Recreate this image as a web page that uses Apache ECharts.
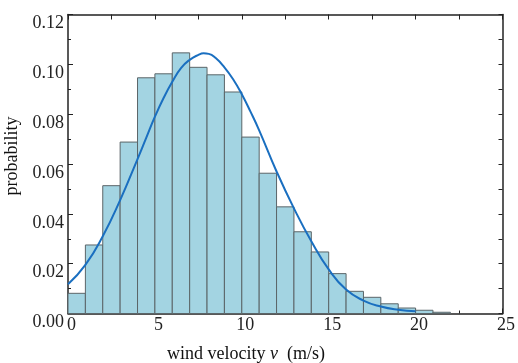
<!DOCTYPE html>
<html><head><meta charset="utf-8">
<script src="https://cdn.jsdelivr.net/npm/echarts@6/dist/echarts.min.js"></script>
<style>html,body{margin:0;padding:0;background:#fff}#c{width:518px;height:363px}</style>
</head><body><div id="c"></div>
<script>
// Histogram bins (bin start, width 1 m/s) and probabilities
const binStarts = [0,1,2,3,4,5,6,7,8,9,10,11,12,13,14,15,16,17,18,19,20,21];
const binWidth = 1;
const binProb = [0.0081,0.0275,0.0513,0.0688,0.0946,0.0962,0.1046,0.0988,0.0958,0.0889,0.0708,0.0563,0.0428,0.0328,0.0247,0.0160,0.0089,0.0065,0.0039,0.0022,0.0013,0.0005];
// Fitted curve
const curveX = [0,1,2,3,4,4.5,5,5.5,6,6.5,7,7.5,7.8,8.1,8.5,9,9.5,10,10.5,11,12,13,14,15,16,17,18,19,20];
const curveY = [0.0117,0.0195,0.031,0.0455,0.062,0.0705,0.079,0.0865,0.093,0.0985,0.1018,0.1038,0.1044,0.1042,0.1025,0.0988,0.094,0.088,0.081,0.0735,0.057,0.0422,0.029,0.0177,0.0096,0.0052,0.0028,0.0015,0.0009];
const xTicks = [0,5,10,15,20,25];
const yTicks = [0.00,0.02,0.04,0.06,0.08,0.10,0.12];

const FONT = 'Liberation Serif';
const AX = '#222';
const chart = echarts.init(document.getElementById('c'), null, {renderer:'canvas'});
const axisCommon = {
  axisLine:{show:true, onZero:false, lineStyle:{color:AX, width:1.5}},
  splitLine:{show:false},
};
chart.setOption({
  animation:false,
  backgroundColor:'#fff',
  grid:{left:68, right:12, top:14.5, bottom:49.5, show:false},
  xAxis:[
    Object.assign({type:'value', min:xTicks[0], max:xTicks[xTicks.length-1], interval:xTicks[1]-xTicks[0], position:'bottom',
      axisTick:{show:true, inside:true, length:5, lineStyle:{color:AX, width:1}},
      minorTick:{show:true, splitNumber:2, length:3, lineStyle:{color:AX, width:1}},
      axisLabel:{show:true, color:'#222', fontFamily:FONT, fontSize:18, margin:3, padding:[0,0,0,7]}}, axisCommon),
    Object.assign({type:'value', min:xTicks[0], max:xTicks[xTicks.length-1], interval:xTicks[1]-xTicks[0], position:'top',
      axisTick:{show:true, inside:true, length:5, lineStyle:{color:AX, width:1}},
      minorTick:{show:true, splitNumber:2, length:5, lineStyle:{color:AX, width:1}},
      axisLabel:{show:false}}, axisCommon)
  ],
  yAxis:[
    Object.assign({type:'value', min:yTicks[0], max:yTicks[yTicks.length-1], interval:yTicks[1]-yTicks[0], position:'left',
      axisTick:{show:true, inside:true, length:5, lineStyle:{color:AX, width:1}},
      minorTick:{show:true, splitNumber:2, length:3, lineStyle:{color:AX, width:1}},
      axisLabel:{show:true, color:'#222', fontFamily:FONT, fontSize:18, margin:4, verticalAlign:'top',
        formatter:v=>v.toFixed(2)}}, axisCommon),
    Object.assign({type:'value', min:yTicks[0], max:yTicks[yTicks.length-1], interval:yTicks[1]-yTicks[0], position:'right',
      axisTick:{show:true, inside:true, length:4, lineStyle:{color:AX, width:1}},
      minorTick:{show:true, splitNumber:2, length:4, lineStyle:{color:AX, width:1}},
      axisLabel:{show:false}}, axisCommon)
  ],
  graphic:[
    {type:'text', position:[12,156], rotation:Math.PI/2, style:{text:'probability', font:'18px "Liberation Serif"', fill:'#111', textAlign:'center', textVerticalAlign:'middle'}},
    {type:'text', position:[246,354], style:{text:'{a|wind velocity }{b|v}{a|  (m/s)}', fill:'#111', textAlign:'center', textVerticalAlign:'middle',
      rich:{a:{fontFamily:FONT, fontSize:18, fill:'#111'}, b:{fontFamily:FONT, fontSize:18, fontStyle:'italic', fill:'#111'}}}}
  ],
  series:[
    {type:'custom', xAxisIndex:0, yAxisIndex:0,
      data: binStarts.map((s,i)=>[s, s+binWidth, binProb[i]]),
      encode:{x:[0,1], y:2},
      renderItem:function(params, api){
        const p0 = api.coord([api.value(0), api.value(2)]);
        const p1 = api.coord([api.value(1), 0]);
        return {type:'rect', shape:{x:p0[0], y:p0[1], width:p1[0]-p0[0], height:p1[1]-p0[1]},
          style:{fill:'#a3d4e2', stroke:'#5b6568', lineWidth:1}};
      }, z:2},
    {type:'line', xAxisIndex:0, yAxisIndex:0, data: curveX.map((x,i)=>[x, curveY[i]]),
      smooth:0.5, showSymbol:false, lineStyle:{color:'#1a6fc0', width:2}, z:3}
  ]
});
</script>
</body></html>
